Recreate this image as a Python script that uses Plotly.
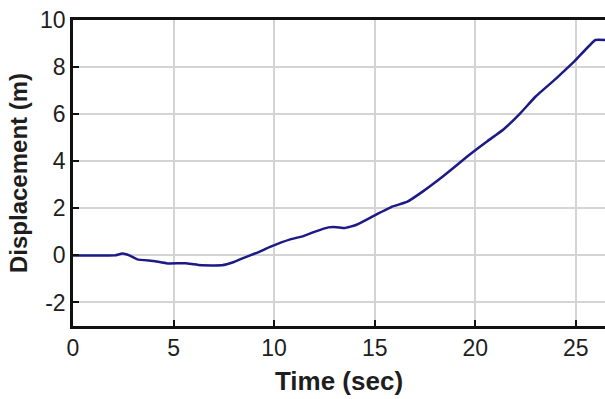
import plotly.graph_objects as go

time_s = [0, 1.0, 2.1, 2.45, 2.8, 3.2, 4.0, 4.7, 5.6, 6.0, 6.4, 7.4, 8.0, 8.65, 9.2, 9.8, 10.8, 11.45,
          12.0, 12.7, 13.1, 13.5, 14.1, 15.0, 15.9, 16.6, 17.4, 18.4, 19.6, 20.6, 21.4, 22.2,
          23.0, 24.0, 24.9, 25.97, 26.5]
disp_m = [0, 0, 0, 0.08, 0.0, -0.17, -0.24, -0.34, -0.33, -0.38, -0.42, -0.42, -0.28, -0.05, 0.13, 0.36, 0.68, 0.82,
          1.0, 1.19, 1.2, 1.16, 1.3, 1.7, 2.08, 2.27, 2.72, 3.36, 4.2, 4.85, 5.35, 6.0,
          6.75, 7.5, 8.22, 9.15, 9.15]

x_ticks = [0, 5, 10, 15, 20, 25]
y_ticks = [-2, 0, 2, 4, 6, 8, 10]
y_tick_labels = ["-2", "0", "2", "4", "6", "8", "10"]

fig = go.Figure()
fig.add_trace(go.Scatter(x=time_s, y=disp_m, mode="lines",
                         line=dict(color="#1c1a86", width=2.5, shape="spline", smoothing=0.3),
                         showlegend=False, hoverinfo="skip"))

font = dict(family="Liberation Sans, Arial, sans-serif", color="#1e1e1e")
fig.update_layout(
    width=605, height=399,
    margin=dict(l=73, r=0, t=20, b=73),
    paper_bgcolor="white", plot_bgcolor="white",
    font=dict(size=23, **font),
)
fig.update_xaxes(
    range=[0, 26.45], tickvals=x_ticks, ticks="inside", ticklen=6, tickwidth=2, tickcolor="#111",
    showline=True, linecolor="#111", linewidth=2.5, mirror=True,
    showgrid=True, gridcolor="#d4d4d4", gridwidth=1.5, zeroline=False,
    tickfont=dict(size=23, **font),
    title=dict(text="<b>Time (sec)</b>", font=dict(size=26, **font), standoff=12),
)
fig.update_yaxes(
    range=[-3, 10], tickvals=y_ticks, ticktext=y_tick_labels, ticks="inside", ticklen=6, tickwidth=2, tickcolor="#111",
    showline=True, linecolor="#111", linewidth=2.5, mirror=False,
    showgrid=True, gridcolor="#d4d4d4", gridwidth=1.5, zeroline=False,
    tickfont=dict(size=23, **font),
    title=dict(text="<b>Displacement (m)</b>", font=dict(size=24, **font), standoff=6),
)
fig.write_html("out.html")
